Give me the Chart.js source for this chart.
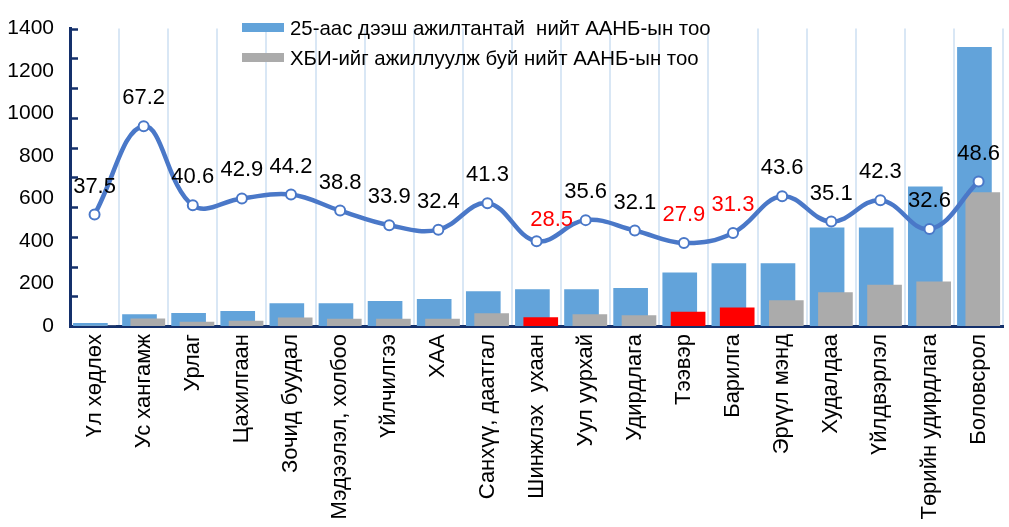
<!DOCTYPE html>
<html>
<head>
<meta charset="utf-8">
<script src="https://cdn.jsdelivr.net/npm/chart.js@4.4.1/dist/chart.umd.min.js"></script>
<style>
  body { margin: 0; background: #fff; overflow: hidden; }
  #wrap { position: absolute; left: 0; top: 0; width: 1013px; height: 527px; }
</style>
</head>
<body>
<div id="wrap"><canvas id="chart"></canvas></div>
<script>
// салбарууд
var sectors = ['Үл хөдлөх', 'Ус хангамж', 'Урлаг', 'Цахилгаан', 'Зочид буудал', 'Мэдээлэл, холбоо',
  'Үйлчилгээ', 'ХАА', 'Санхүү, даатгал', 'Шинжлэх  ухаан', 'Уул уурхай', 'Удирдлага', 'Тээвэр',
  'Барилга', 'Эрүүл мэнд', 'Худалдаа', 'Үйлдвэрлэл', 'Төрийн удирдлага', 'Боловсрол'];
var firms25 = [12, 54, 60, 69, 105, 105, 116, 126, 162, 172, 172, 177, 250, 294, 294, 462, 462, 655, 1312];
var firmsHbi = [0, 34, 18, 23, 38, 32, 32, 32, 59, 40, 54, 49, 65, 85, 120, 157, 193, 208, 628];
var sharePct = [37.5, 67.2, 40.6, 42.9, 44.2, 38.8, 33.9, 32.4, 41.3, 28.5, 35.6, 32.1, 27.9, 31.3, 43.6, 35.1, 42.3, 32.6, 48.6];
var redIdx = [9, 12, 13];
var seriesNames = ['25-аас дээш ажилтантай  нийт ААНБ-ын тоо', 'ХБИ-ийг ажиллуулж буй нийт ААНБ-ын тоо'];

var navy = '#14306b';
var blue = '#62a3da';
var gray = '#ababab';
var red = '#ff0000';
var lineBlue = '#4a78c8';
var shift = 0.085;   // цэнхэр баганыг зүүн, саарлыг баруун тийш бага зэрэг шилжүүлнэ

Chart.defaults.font.family = "'Liberation Sans', Arial, sans-serif";
Chart.defaults.color = '#000';

function xy(arr) {
  return arr.map(function(v, i) { return { x: i, y: v }; });
}

// 0-100 хувийн тэнхлэгийн жижиг зураасууд
var pctTicks = {
  id: 'pctTicks',
  afterDraw: function(chart) {
    var ctx = chart.ctx, s = chart.scales.y2, left = chart.chartArea.left;
    ctx.save();
    ctx.strokeStyle = navy;
    ctx.lineWidth = 2.5;
    ctx.beginPath();
    for (var v = 10; v <= 100; v += 10) {
      var y = Math.round(s.getPixelForValue(v)) + 0.5;
      ctx.moveTo(left, y);
      ctx.lineTo(left + 8, y);
    }
    ctx.stroke();
    ctx.restore();
  }
};

// шугамын цэг бүрийн утга
var pctLabels = {
  id: 'pctLabels',
  afterDatasetsDraw: function(chart) {
    var ctx = chart.ctx;
    var meta = chart.getDatasetMeta(2);
    ctx.save();
    ctx.font = "22px 'Liberation Sans', Arial, sans-serif";
    ctx.textAlign = 'center';
    ctx.textBaseline = 'middle';
    meta.data.forEach(function(pt, i) {
      var dx = 0, dy = -28;
      if (i === 9) { dx = 15; dy = -21; }
      ctx.fillStyle = redIdx.indexOf(i) >= 0 ? red : '#000';
      ctx.fillText(sharePct[i].toFixed(1), pt.x + dx, pt.y + dy);
    });
    ctx.restore();
  }
};

// тайлбар
var legendBox = {
  id: 'legendBox',
  afterDraw: function(chart) {
    var ctx = chart.ctx;
    var cols = [blue, gray];
    ctx.save();
    ctx.font = "20.4px 'Liberation Sans', Arial, sans-serif";
    ctx.textBaseline = 'middle';
    ctx.textAlign = 'left';
    for (var i = 0; i < 2; i++) {
      var y = 23 + i * 30;
      ctx.fillStyle = cols[i];
      ctx.fillRect(242, y, 42, 9);
      ctx.fillStyle = '#000';
      ctx.fillText(seriesNames[i], 290, y + 6);
    }
    ctx.restore();
  }
};

var barScale = function(off) {
  return { type: 'linear', display: false, offset: false, min: -0.5 + off, max: 18.5 + off, ticks: { stepSize: 1 } };
};

new Chart(document.getElementById('chart'), {
  type: 'bar',
  data: {
    labels: sectors,
    datasets: [
      {
        label: seriesNames[0],
        data: xy(firms25),
        backgroundColor: blue,
        xAxisID: 'xb',
        yAxisID: 'y',
        grouped: false,
        categoryPercentage: 1,
        barPercentage: 1,
        maxBarThickness: 34,
        order: 2
      },
      {
        label: seriesNames[1],
        data: xy(firmsHbi),
        backgroundColor: firmsHbi.map(function(v, i) { return redIdx.indexOf(i) >= 0 ? red : gray; }),
        xAxisID: 'xg',
        yAxisID: 'y',
        grouped: false,
        categoryPercentage: 1,
        barPercentage: 1,
        maxBarThickness: 34,
        order: 1
      },
      {
        type: 'line',
        label: 'хувь',
        data: sharePct,
        borderColor: lineBlue,
        borderWidth: 4.5,
        tension: 0.4,
        pointRadius: 5,
        pointBackgroundColor: '#fff',
        pointBorderColor: lineBlue,
        pointBorderWidth: 2,
        xAxisID: 'x',
        yAxisID: 'y2',
        order: 0
      }
    ]
  },
  options: {
    responsive: true,
    maintainAspectRatio: false,
    animation: false,
    layout: { padding: { top: 22, left: 0, right: 0, bottom: 0 }, autoPadding: false },
    plugins: { legend: { display: false }, tooltip: { enabled: false } },
    scales: {
      x: {
        type: 'category',
        offset: true,
        grid: { offset: true, color: '#d9e7f5', lineWidth: 2, drawTicks: false },
        border: { color: navy, width: 3 },
        ticks: { autoSkip: false, maxRotation: 90, minRotation: 90, padding: 8, font: { size: 22 } },
        afterFit: function(s) { s.height = 201; }
      },
      xb: barScale(shift),
      xg: barScale(-shift),
      y: {
        min: 0,
        max: 1400,
        ticks: { stepSize: 200, padding: 16, font: { size: 21 }, callback: function(v) { return String(v); } },
        grid: { display: false, drawTicks: false },
        border: { color: navy, width: 3 },
        afterFit: function(s) { s.width = 70; }
      },
      y2: { type: 'linear', display: false, min: 0, max: 100 }
    }
  },
  plugins: [pctTicks, pctLabels, legendBox]
});
</script>
</body>
</html>
